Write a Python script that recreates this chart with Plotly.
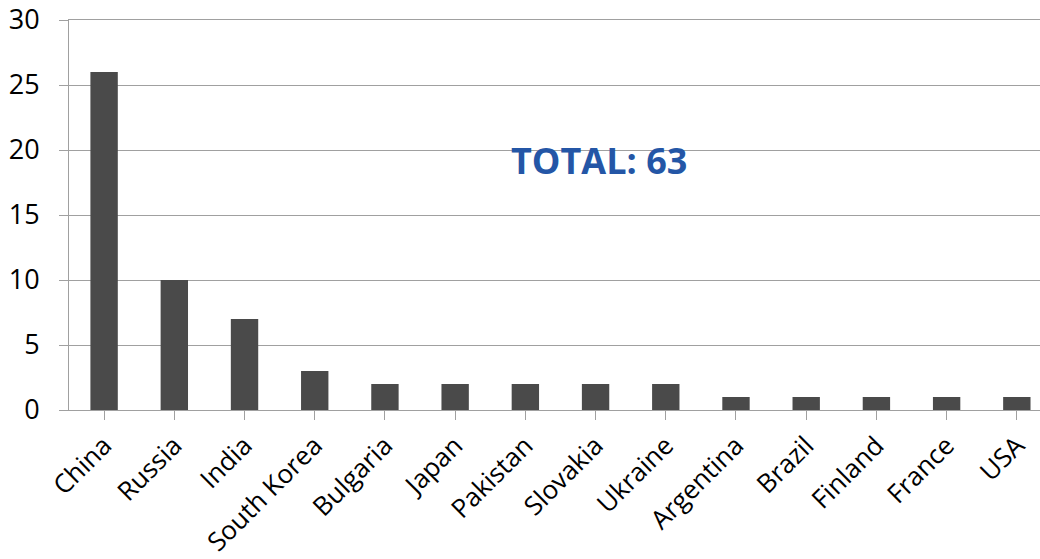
import plotly.graph_objects as go

countries = ["China", "Russia", "India", "South Korea", "Bulgaria", "Japan", "Pakistan",
             "Slovakia", "Ukraine", "Argentina", "Brazil", "Finland", "France", "USA"]
reactors = [26, 10, 7, 3, 2, 2, 2, 2, 2, 1, 1, 1, 1, 1]
y_ticks = [0, 5, 10, 15, 20, 25, 30]
total_label = "TOTAL: 63"

fig = go.Figure()
fig.add_trace(go.Bar(x=list(range(len(countries))), y=reactors, width=0.39,
                     marker=dict(color="#4a4a4a", line=dict(width=0))))

fig.add_annotation(x=7.05, y=19.2, xref="x", yref="y", text="<b>" + total_label + "</b>",
                   showarrow=False, font=dict(size=36, color="#2456a6", family="Open Sans"))

fig.update_layout(
    width=1040, height=559,
    margin=dict(l=69, r=0, t=20, b=149),
    paper_bgcolor="white", plot_bgcolor="white",
    showlegend=False,
    font=dict(family="Open Sans", color="black"),
)
fig.update_xaxes(
    range=[-0.5, 13.33], automargin=False,
    tickmode="array", tickvals=list(range(len(countries))), ticktext=countries,
    tickangle=-45, tickfont=dict(size=26),
    ticks="outside", ticklen=9, tickcolor="#a0a0a0", tickson="boundaries",
    showline=True, linecolor="#a0a0a0", linewidth=1, mirror=True,
    showgrid=False, zeroline=False,
)
fig.update_yaxes(
    range=[0, 30], tickvals=y_ticks, tickfont=dict(size=27), automargin=False,
    ticks="outside", ticklen=9, tickcolor="#a0a0a0", ticklabelstandoff=14,
    ticklabeloverflow="allow",
    showgrid=True, gridcolor="#a0a0a0", gridwidth=1,
    showline=True, linecolor="#a0a0a0", linewidth=1,
    zeroline=False,
)

fig.write_html("out.html", config={"displayModeBar": False},
               post_script="document.body.style.margin='0';")
